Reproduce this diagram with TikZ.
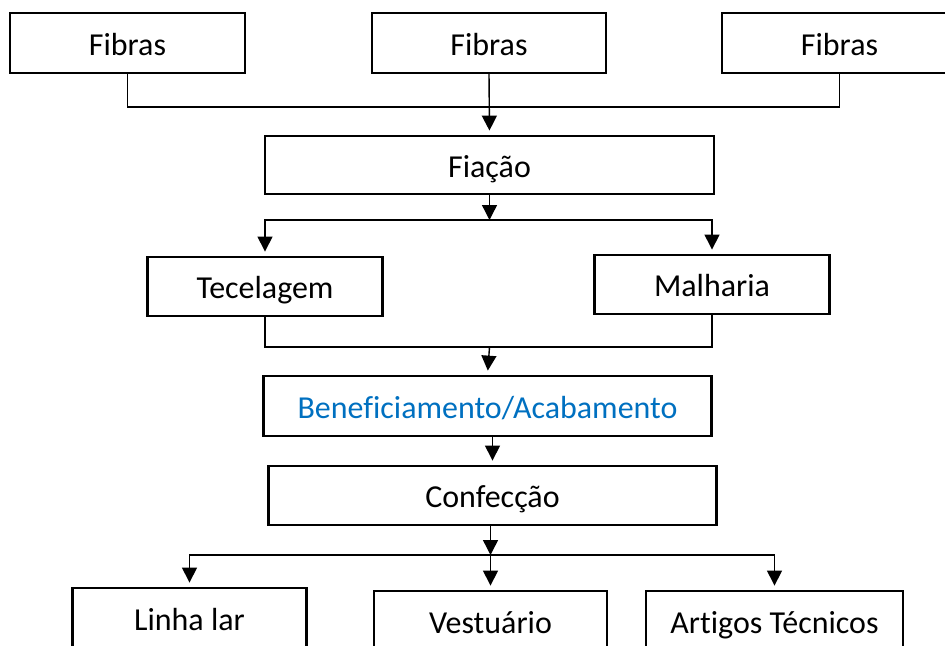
\documentclass[tikz,border=0pt]{standalone}
\usepackage{fontspec}
\setmainfont{Carlito}[Ligatures=NoCommon]
\usetikzlibrary{arrows.meta}
\definecolor{azul}{RGB}{0,112,192}

\begin{document}
\begin{tikzpicture}
        [x=0.02cm, y=-0.02cm,
        every node/.style={font=\fontsize{18.2}{22}\selectfont},
        caixa/.style={draw, line width=1.2pt, rectangle, inner sep=0pt,
                     text height=15pt, text depth=1pt,
                     minimum height=1.2cm, minimum width=#1},
        caixa/.default=4.7cm,
        linha/.style={draw, line width=0.8pt},
        seta/.style={linha, -{Triangle[width=8.5pt,length=8.5pt]}},
        setab/.style={seta, shorten >=2.5pt}]
        \clip (0,0) rectangle (945,645);
        % fibras
        \node[caixa] (fib1) at (127.5,43) {Fibras};
        \node[caixa=4.68cm] (fib2) at (489,43) {Fibras};
        \node[caixa] (fib3) at (839.5,43) {Fibras};
        % etapas
        \node[caixa=8.98cm, minimum height=1.16cm] (fia) at (489.5,165) {Fiação};
        \node[caixa, minimum height=1.18cm] (tec) at (265,286.5) {Tecelagem};
        \node[caixa, minimum height=1.18cm] (mal) at (712,284.5) {Malharia};
        \node[caixa=8.96cm, text=azul] (ben) at (487.5,406) {Beneficiamento/Acabamento};
        \node[caixa=8.96cm, minimum height=1.18cm] (con) at (492.5,495.5) {Confecção};
        % produtos
        \node[caixa=4.68cm] (lin) at (189.5,618) {Linha lar};
        \node[caixa=4.66cm] (ves) at (490.5,621) {Vestuário};
        \node[caixa=5.14cm] (art) at (774.5,621) {Artigos Técnicos};
        % ligacoes
        \coordinate (j1) at (489,107);
        \coordinate (j2) at (489.5,220);
        \coordinate (j3) at (489.5,347);
        \coordinate (j4) at (490.5,555);
        \draw[linha] (fib1.south) |- (j1) -| (fib3.south);
        \draw[setab] (fib2.south) -- (fia.north);
        \draw[seta] (fia.south) -- (j2);
        \draw[setab] (j2) -| (tec.north);
        \draw[setab] (j2) -| (mal.north);
        \draw[linha] (tec.south) |- (j3) -| (mal.south);
        \draw[setab] (j3) -- (ben.north);
        \draw[setab] (ben.south -| con.north) -- (con.north);
        \draw[seta] (con.south -| j4) -- (j4);
        \draw[setab] (j4) -| (lin.north);
        \draw[setab] (j4) -- (ves.north);
        \draw[setab] (j4) -| (art.north);
\end{tikzpicture}
\end{document}
